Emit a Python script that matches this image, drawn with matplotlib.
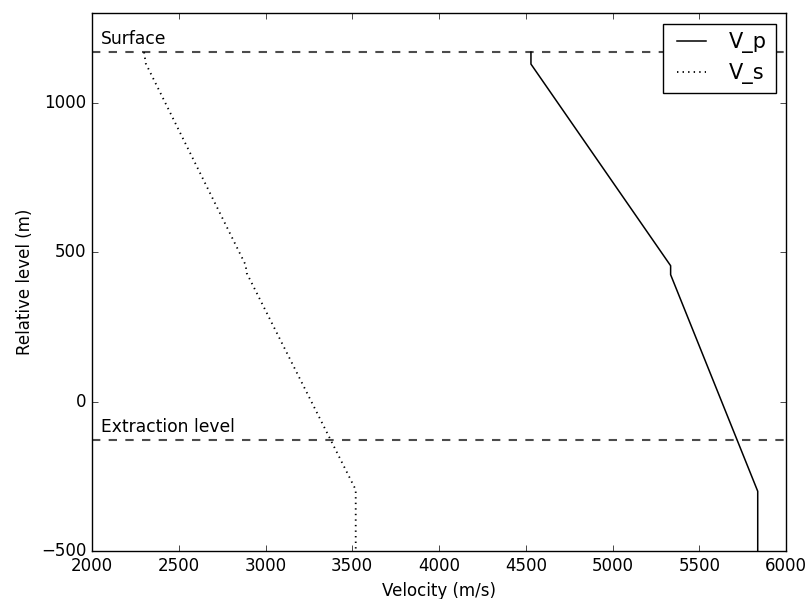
import matplotlib
matplotlib.use("Agg")
import matplotlib.pyplot as plt

plt.style.use("classic")

# Data (depth in m, velocity in m/s)
depth = [1170, 1130, 455, 425, -300, -500]
vp = [4530, 4530, 5335, 5335, 5837, 5837]
depth_s = [1170, 1132, 458, 430, -295, -500]
vs = [2300, 2310, 2885, 2892, 3520, 3520]

surface_level = 1170
extraction_level = -130
level_names = ["Surface", "Extraction level"]

fig = plt.figure(figsize=(8.11, 5.99), dpi=100, facecolor="white")
ax = fig.add_axes([92 / 811, 48 / 599, 694 / 811, 537.7 / 599])
ax.set_facecolor("white")

ax.plot(vp, depth, "k-", linewidth=1.1, label="V_p")
ax.plot(vs, depth_s, "k:", linewidth=1.3, label="V_s")

for lvl, name in zip([surface_level, extraction_level], level_names):
    ax.axhline(lvl, color="k", alpha=0.7, linestyle="--", linewidth=1.5)
    ax.text(2050, lvl + 27, name, fontsize=12.3, va="baseline", ha="left")

ax.set_xlim(2000, 6000)
ax.set_ylim(-500, 1300)
ax.set_yticks([-500, 0, 500, 1000])
ax.set_xlabel("Velocity (m/s)", fontsize=12)
ax.set_ylabel("Relative level (m)", fontsize=12)
ax.tick_params(labelsize=12)
ax.legend(loc="upper right", fontsize=15)

fig.savefig("out.png", dpi=100, facecolor="white")
